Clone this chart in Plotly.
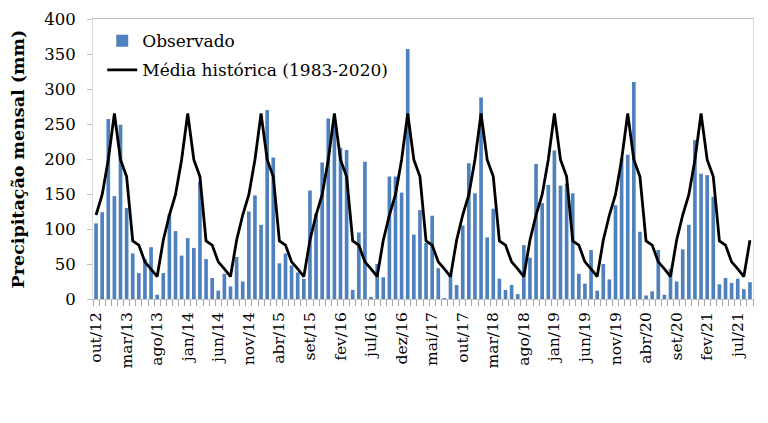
import plotly.graph_objects as go

# ---------------- data ----------------
meses = ["jan", "fev", "mar", "abr", "mai", "jun", "jul", "ago", "set", "out", "nov", "dez"]

# monthly categories: out/12 ... set/21
categorias = []
for ano in range(2012, 2022):
    for mes in meses:
        rotulo = f"{mes}/{str(ano)[2:]}"
        categorias.append(rotulo)
inicio = categorias.index("out/12")
fim = categorias.index("set/21")
categorias = categorias[inicio:fim + 1]

# observed monthly precipitation (mm)
observado = [
    108, 124, 257, 147, 249, 130, 65, 37, 57, 74, 6, 37,        # out/12 - set/13
    121, 97, 62, 87, 73, 168, 57, 30, 12, 36, 18, 60,           # out/13 - set/14
    25, 125, 148, 106, 270, 202, 51, 65, 48, 38, 29, 155,       # out/14 - set/15
    122, 195, 258, 256, 216, 213, 13, 95, 196, 3, 50, 31,       # out/15 - set/16
    175, 175, 152, 357, 92, 127, 80, 119, 44, 1, 37, 20,        # out/16 - set/17
    105, 194, 151, 288, 88, 129, 29, 13, 20, 7, 77, 59,         # out/17 - set/18
    193, 137, 163, 212, 162, 165, 151, 36, 22, 70, 12, 50,      # out/18 - set/19
    28, 134, 201, 206, 310, 96, 5, 11, 70, 6, 43, 25,           # out/19 - set/20
    71, 106, 227, 179, 177, 146, 21, 30, 23, 29, 14, 24,        # out/20 - set/21
]

# historical monthly mean 1983-2020 (mm)
media_historica = {
    "jan": 265, "fev": 199, "mar": 175, "abr": 83, "mai": 77, "jun": 53,
    "jul": 43, "ago": 32, "set": 84, "out": 120, "nov": 149, "dez": 199,
}

rotulos_eixo = categorias[::5]

# ---------------- figure ----------------
posicoes = list(range(len(categorias)))
media_serie = [media_historica[c.split("/")[0]] for c in categorias]

fig = go.Figure()
fig.add_trace(go.Bar(
    x=posicoes, y=observado, name="Observado", legendgroup="obs",
    marker=dict(color="#4F81BD", line=dict(width=0)),
    customdata=categorias,
    hovertemplate="%{customdata}: %{y} mm<extra>Observado</extra>",
))
fig.add_trace(go.Scatter(
    x=posicoes, y=media_serie, name="Média histórica (1983-2020)", legendgroup="med",
    mode="lines", line=dict(color="black", width=2.8),
    customdata=categorias,
    hovertemplate="%{customdata}: %{y} mm<extra>Média</extra>",
))

# page body has an 8px default margin, so the figure is 760x415
fig.update_layout(
    width=760, height=415,
    margin=dict(l=85, r=15, t=11, b=124, autoexpand=False),
    paper_bgcolor="white", plot_bgcolor="white",
    font=dict(family="DejaVu Serif", size=16, color="black"),
    bargap=0.4,
    showlegend=True,
    legend=dict(
        x=0.014, y=0.985, xanchor="left", yanchor="top",
        bgcolor="rgba(0,0,0,0)", borderwidth=0,
        font=dict(family="DejaVu Serif", size=17, color="black"),
        tracegroupgap=4, itemwidth=30,
    ),
)

fig.update_xaxes(
    range=[-0.5, len(categorias) - 0.5], automargin=False,
    tickmode="array", tickvals=posicoes[::5], ticktext=rotulos_eixo,
    tickangle=-90, ticks="", tickfont=dict(size=15.5), ticklabelstandoff=6,
    showline=True, linecolor="#BFBFBF", linewidth=1, mirror=True,
    showgrid=False, zeroline=False,
    minor=dict(tickmode="linear", tick0=-0.5, dtick=1, ticks="outside",
               ticklen=6, tickcolor="#A6A6A6", tickwidth=1, showgrid=False),
)
fig.update_yaxes(
    range=[0, 400], dtick=50, tickmode="linear", automargin=False,
    ticks="outside", ticklen=5, tickcolor="#BFBFBF",
    tickfont=dict(size=16.5), ticklabelstandoff=8,
    showline=True, linecolor="#D9D9D9", linewidth=1, mirror=True,
    showgrid=False, zeroline=False,
    title=dict(text="<b>Precipitação mensal (mm)</b>",
               font=dict(size=17.5, family="DejaVu Serif"), standoff=16),
)

fig.write_html("out.html")
